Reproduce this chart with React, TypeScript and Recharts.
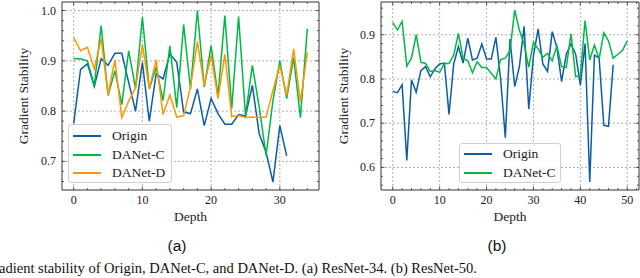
import { LineChart, Line, XAxis, YAxis, ReferenceLine, Legend } from "recharts";

// ResNet-34 (a)
const originA = [0.775, 0.883, 0.894, 0.849, 0.904, 0.891, 0.915, 0.915, 0.857, 0.8, 0.897, 0.78, 0.874, 0.864, 0.914, 0.897, 0.798, 0.795, 0.844, 0.771, 0.825, 0.795, 0.774, 0.774, 0.793, 0.79, 0.851, 0.755, 0.718, 0.659, 0.771, 0.711];
const danetCA = [0.904, 0.904, 0.9, 0.851, 0.97, 0.831, 0.88, 0.813, 0.92, 0.845, 0.987, 0.844, 0.887, 0.821, 0.93, 0.807, 0.972, 0.844, 1.0, 0.848, 0.93, 0.831, 0.99, 0.805, 0.988, 0.791, 0.891, 0.808, 0.712, 0.821, 0.9, 0.825, 0.907, 0.787, 0.964];
const danetDA = [0.946, 0.92, 0.927, 0.884, 0.944, 0.833, 0.902, 0.787, 0.82, 0.846, 0.932, 0.844, 0.902, 0.793, 0.832, 0.788, 0.791, 0.848, 0.938, 0.851, 0.911, 0.825, 0.913, 0.789, 0.791, 0.787, 0.788, 0.787, 0.788, 0.841, 0.891, 0.831, 0.924, 0.818, 0.917];

// ResNet-50 (b)
const originB = [0.772, 0.769, 0.787, 0.616, 0.798, 0.77, 0.819, 0.828, 0.805, 0.823, 0.834, 0.836, 0.72, 0.834, 0.873, 0.836, 0.892, 0.843, 0.847, 0.879, 0.845, 0.845, 0.894, 0.8, 0.667, 0.89, 0.783, 0.828, 0.919, 0.732, 0.853, 0.913, 0.834, 0.817, 0.907, 0.871, 0.794, 0.856, 0.879, 0.856, 0.786, 0.88, 0.567, 0.854, 0.847, 0.695, 0.693, 0.832];
const danetCB = [0.928, 0.911, 0.93, 0.829, 0.847, 0.9, 0.838, 0.835, 0.817, 0.819, 0.815, 0.835, 0.835, 0.854, 0.903, 0.847, 0.841, 0.814, 0.839, 0.826, 0.826, 0.813, 0.8, 0.844, 0.847, 0.864, 0.956, 0.91, 0.879, 0.826, 0.883, 0.868, 0.849, 0.858, 0.841, 0.875, 0.828, 0.826, 0.902, 0.805, 0.808, 0.932, 0.843, 0.877, 0.845, 0.904, 0.886, 0.847, 0.856, 0.865, 0.886];

// ticks (major + minor)
const xTicksA = [0, 2, 4, 6, 8, 10, 12, 14, 16, 18, 20, 22, 24, 26, 28, 30, 32, 34];
const xMajorA = [0, 10, 20, 30];
const yTicksA = [0.66, 0.68, 0.7, 0.72, 0.74, 0.76, 0.78, 0.8, 0.82, 0.84, 0.86, 0.88, 0.9, 0.92, 0.94, 0.96, 0.98, 1.0];
const yMajorA = [0.7, 0.8, 0.9, 1.0];
const xTicksB = [0, 2, 4, 6, 8, 10, 12, 14, 16, 18, 20, 22, 24, 26, 28, 30, 32, 34, 36, 38, 40, 42, 44, 46, 48, 50, 52];
const xMajorB = [0, 10, 20, 30, 40, 50];
const yTicksB = [0.56, 0.58, 0.6, 0.62, 0.64, 0.66, 0.68, 0.7, 0.72, 0.74, 0.76, 0.78, 0.8, 0.82, 0.84, 0.86, 0.88, 0.9, 0.92, 0.94, 0.96];
const yMajorB = [0.6, 0.7, 0.8, 0.9];

const BLUE = "#0C5DA5";
const GREEN = "#00B945";
const ORANGE = "#FF9500";
const AXIS = "#333";
const SERIF = "'Liberation Serif', 'Times New Roman', serif";
const SANS = "'Liberation Sans', Arial, sans-serif";

const rowsA = danetCA.map((c, i) => ({ depth: i, origin: originA[i], danetC: c, danetD: danetDA[i] }));
const rowsB = danetCB.map((c, i) => ({ depth: i, origin: originB[i], danetC: c }));

const isMajor = (v: number, majors: number[]) => majors.some((m) => Math.abs(m - v) < 1e-6);

// inward ticks, matplotlib "science" look
const makeTick = (side: "bottom" | "top" | "left" | "right", majors: number[], fmt?: (v: number) => string) => (p: any) => {
  const { x, y, payload } = p;
  const v = payload.value;
  const major = isMajor(v, majors);
  const len = major ? 3.5 : 2;
  let line;
  if (side === "bottom") line = <line x1={x} x2={x} y1={y} y2={y - len} stroke={AXIS} strokeWidth={0.8} />;
  else if (side === "top") line = <line x1={x} x2={x} y1={y} y2={y + len} stroke={AXIS} strokeWidth={0.8} />;
  else if (side === "left") line = <line x1={x} x2={x + len} y1={y} y2={y} stroke={AXIS} strokeWidth={0.8} />;
  else line = <line x1={x} x2={x - len} y1={y} y2={y} stroke={AXIS} strokeWidth={0.8} />;
  let label = null;
  if (major && fmt && side === "bottom")
    label = <text x={x} y={y + 14} textAnchor="middle" fontSize={12} fontFamily={SERIF} fill="#222">{fmt(v)}</text>;
  if (major && fmt && side === "left")
    label = <text x={x - 6} y={y + 4} textAnchor="end" fontSize={12} fontFamily={SERIF} fill="#222">{fmt(v)}</text>;
  return <g>{line}{label}</g>;
};

const yLabel = (dx: number) => (p: any) => {
  const vb = p.viewBox;
  return (
    <text transform={`translate(${vb.x + dx}, ${vb.y + vb.height / 2}) rotate(-90)`} textAnchor="middle" fontSize={13.5} fontFamily={SERIF} fill="#222">
      Gradient Stability
    </text>
  );
};

const xLabel = (p: any) => {
  const vb = p.viewBox;
  return (
    <text x={vb.x + vb.width / 2} y={vb.y + 31} textAnchor="middle" fontSize={13.5} fontFamily={SERIF} fill="#222">
      Depth
    </text>
  );
};

const legendBox = (items: { name: string; color: string }[], w: number, h: number, padTop: number) => () => (
  <div
    style={{
      width: w,
      height: h,
      boxSizing: "border-box",
      border: "1px solid #cfcfcf",
      borderRadius: 3,
      background: "rgba(255,255,255,0.85)",
      paddingTop: padTop,
      fontFamily: SERIF,
    }}
  >
    {items.map((it) => (
      <div key={it.name} style={{ display: "flex", alignItems: "center", height: 18.5 }}>
        <span style={{ marginLeft: 4, width: 28, height: 2, background: it.color, display: "inline-block" }} />
        <span style={{ marginLeft: 11, fontFamily: SERIF, fontSize: 13.5, color: "#222", lineHeight: "18px" }}>{it.name}</span>
      </div>
    ))}
  </div>
);

const fmtInt = (v: number) => String(Math.round(v));
const fmtOne = (v: number) => v.toFixed(1);

function Panel(props: {
  data: any[];
  series: { key: string; name: string; color: string }[];
  xDomain: [number, number];
  yDomain: [number, number];
  xTicks: number[];
  xMajor: number[];
  yTicks: number[];
  yMajor: number[];
  yAxisWidth: number;
  legendPos: { left: number; top: number; w: number; h: number; pad: number };
  yLabelDx: number;
}) {
  const { data, series, xDomain, yDomain, xTicks, xMajor, yTicks, yMajor, yAxisWidth, legendPos, yLabelDx } = props;
  return (
    <LineChart width={322} height={228} data={data} margin={{ top: 1, right: 2, bottom: 0, left: 0 }}>
      <XAxis
        dataKey="depth"
        type="number"
        domain={xDomain}
        allowDataOverflow
        ticks={xTicks}
        interval={0}
        tickSize={0}
        tickMargin={0}
        tickLine={false}
        height={38}
        axisLine={{ stroke: AXIS, strokeWidth: 1 }}
        tick={makeTick("bottom", xMajor, fmtInt)}
        label={xLabel}
      />
      <XAxis
        xAxisId="top"
        dataKey="depth"
        orientation="top"
        type="number"
        domain={xDomain}
        allowDataOverflow
        ticks={xTicks}
        interval={0}
        tickSize={0}
        tickMargin={0}
        tickLine={false}
        height={1}
        axisLine={{ stroke: AXIS, strokeWidth: 1 }}
        tick={makeTick("top", xMajor)}
      />
      <YAxis
        type="number"
        domain={yDomain}
        allowDataOverflow
        ticks={yTicks}
        interval={0}
        tickSize={0}
        tickMargin={0}
        tickLine={false}
        width={yAxisWidth}
        axisLine={{ stroke: AXIS, strokeWidth: 1 }}
        tick={makeTick("left", yMajor, fmtOne)}
        label={yLabel(yLabelDx)}
      />
      <YAxis
        yAxisId="right"
        orientation="right"
        type="number"
        domain={yDomain}
        allowDataOverflow
        ticks={yTicks}
        interval={0}
        tickSize={0}
        tickMargin={0}
        tickLine={false}
        width={1}
        axisLine={{ stroke: AXIS, strokeWidth: 1 }}
        tick={makeTick("right", yMajor)}
      />
      {xMajor.map((v) => (
        <ReferenceLine key={"x" + v} x={v} stroke="#9a9a9a" strokeDasharray="2 2" strokeWidth={0.8} />
      ))}
      {yMajor.map((v) => (
        <ReferenceLine key={"y" + v} y={v} stroke="#9a9a9a" strokeDasharray="2 2" strokeWidth={0.8} />
      ))}
      {series.map((s) => (
        <Line
          key={s.key}
          type="linear"
          dataKey={s.key}
          name={s.name}
          stroke={s.color}
          strokeWidth={1.5}
          dot={false}
          isAnimationActive={false}
        />
      ))}
      <Legend
        layout="vertical"
        align="center"
        verticalAlign="middle"
        content={legendBox(series.map((s) => ({ name: s.name, color: s.color })), legendPos.w, legendPos.h, legendPos.pad)}
        wrapperStyle={{ left: legendPos.left, top: legendPos.top, width: legendPos.w, height: legendPos.h }}
      />
    </LineChart>
  );
}

const subCaption = (text: string, cx: number) => (
  <div style={{ position: "absolute", left: cx - 30, width: 60, top: 237, textAlign: "center", fontFamily: SANS, fontSize: 15.5, color: "#111" }}>
    {text}
  </div>
);

export default function App() {
  return (
    <div style={{ position: "absolute", left: 0, top: 0, width: 640, height: 278, overflow: "hidden", background: "#fff" }}>
      <div style={{ position: "absolute", left: 0, top: 0 }}>
        <Panel
          data={rowsA}
          series={[
            { key: "origin", name: "Origin", color: BLUE },
            { key: "danetC", name: "DANet-C", color: GREEN },
            { key: "danetD", name: "DANet-D", color: ORANGE },
          ]}
          xDomain={[-1.7, 35.7]}
          yDomain={[0.643, 1.017]}
          xTicks={xTicksA}
          xMajor={xMajorA}
          yTicks={yTicksA}
          yMajor={yMajorA}
          yAxisWidth={62}
          legendPos={{ left: 68, top: 124, w: 104, h: 59, pad: 2 }}
          yLabelDx={28}
        />
      </div>
      <div style={{ position: "absolute", left: 320, top: 0 }}>
        <Panel
          data={rowsB}
          series={[
            { key: "origin", name: "Origin", color: BLUE },
            { key: "danetC", name: "DANet-C", color: GREEN },
          ]}
          xDomain={[-2.5, 52.5]}
          yDomain={[0.549, 0.974]}
          xTicks={xTicksB}
          xMajor={xMajorB}
          yTicks={yTicksB}
          yMajor={yMajorB}
          yAxisWidth={61}
          legendPos={{ left: 139, top: 143, w: 102, h: 40, pad: 1 }}
          yLabelDx={28}
        />
      </div>
      {subCaption("(a)", 177)}
      {subCaption("(b)", 497)}
      <div style={{ position: "absolute", left: -1, top: 260, fontFamily: SERIF, fontSize: 14.5, color: "#111", whiteSpace: "nowrap" }}>
        adient stability of Origin, DANet-C, and DANet-D. (a) ResNet-34. (b) ResNet-50.
      </div>
    </div>
  );
}
